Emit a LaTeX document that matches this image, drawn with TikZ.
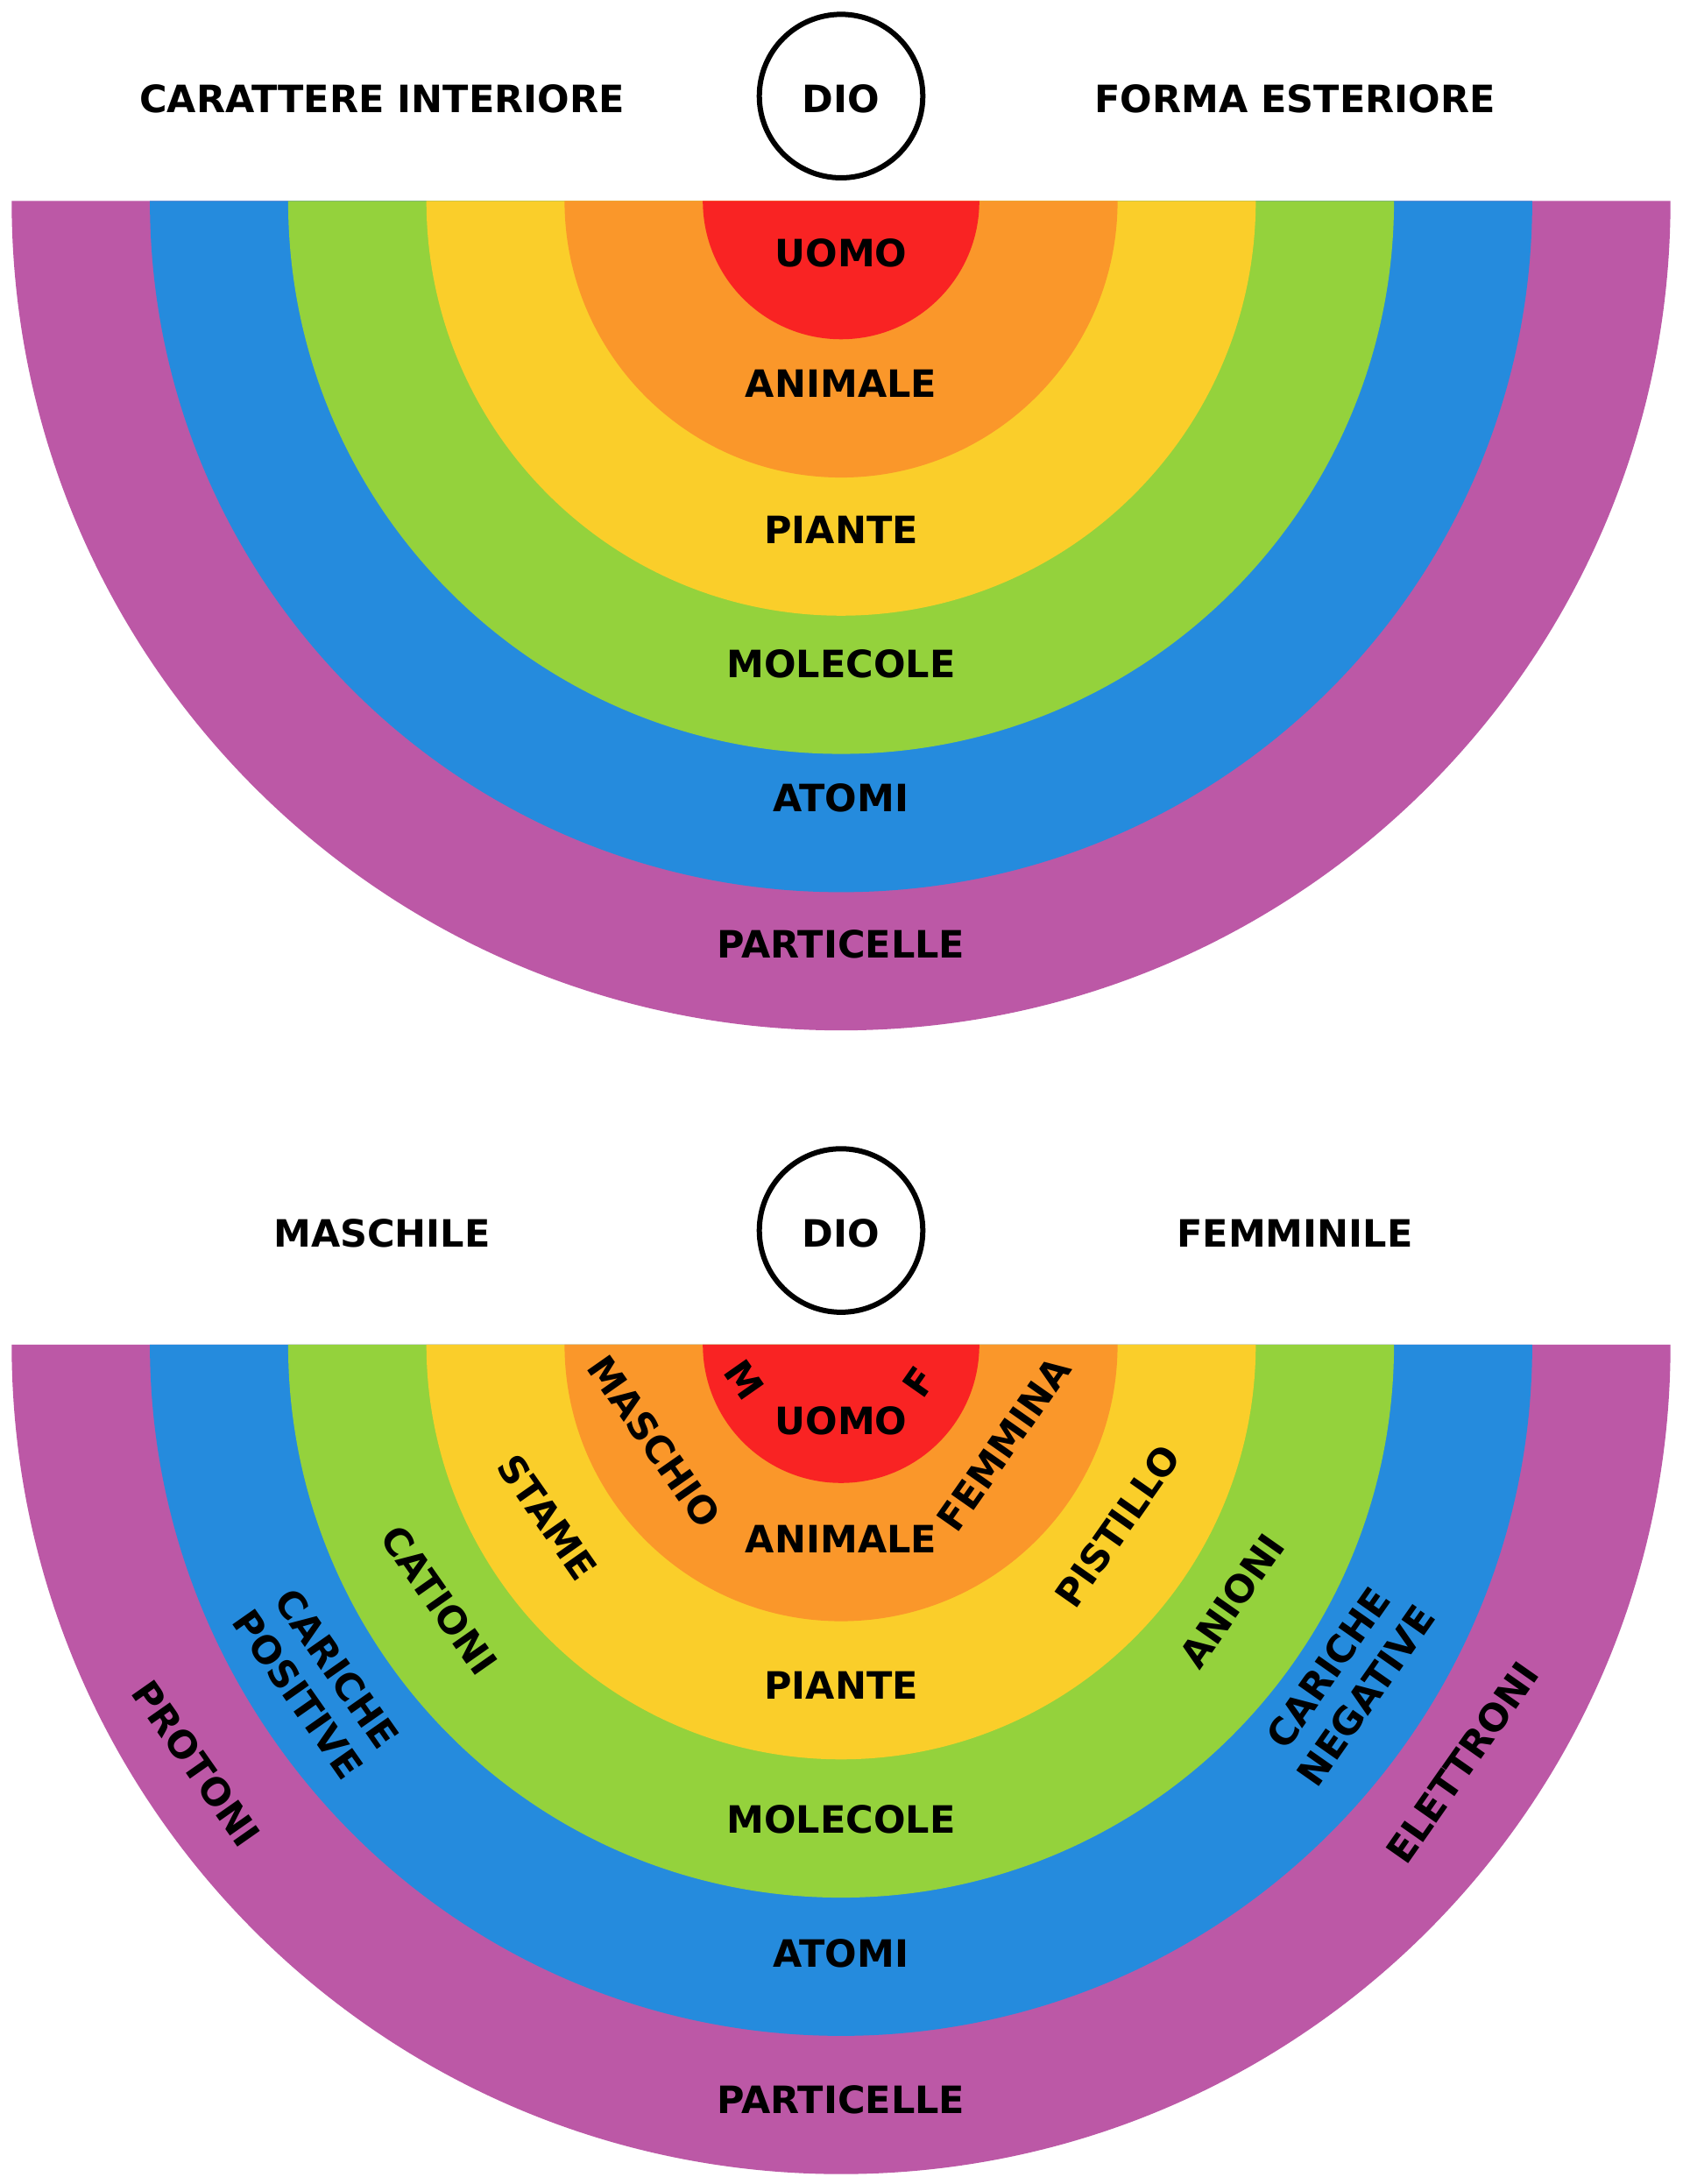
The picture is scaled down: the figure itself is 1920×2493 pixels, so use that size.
\documentclass[tikz,border=0pt]{standalone}
\usepackage{fontspec}
\setmainfont{DejaVu Sans}
\definecolor{cPurple}{HTML}{BC58A6}
\definecolor{cBlue}{HTML}{258BDD}
\definecolor{cGreen}{HTML}{94D23C}
\definecolor{cYellow}{HTML}{FACE2A}
\definecolor{cOrange}{HTML}{FA972A}
\definecolor{cRed}{HTML}{F92323}
\tikzset{
  lab/.style={font=\fontsize{43}{50}\selectfont\bfseries, inner sep=0pt, text height=31.35pt, text depth=0pt},
  labL/.style={lab, rotate=-55},
  labR/.style={lab, rotate=55},
  dio/.style={circle, draw=black, line width=6pt, minimum size=186.6pt, inner sep=0pt, fill=white}
}
\newcommand{\halfrings}[1]{%
  \fill[cPurple] (960-946.7,#1) arc[start angle=180, end angle=360, radius=946.7] -- cycle;
  \fill[cBlue]   (960-788.9,#1) arc[start angle=180, end angle=360, radius=788.9] -- cycle;
  \fill[cGreen]  (960-631.1,#1) arc[start angle=180, end angle=360, radius=631.1] -- cycle;
  \fill[cYellow] (960-473.3,#1) arc[start angle=180, end angle=360, radius=473.3] -- cycle;
  \fill[cOrange] (960-315.6,#1) arc[start angle=180, end angle=360, radius=315.6] -- cycle;
  \fill[cRed]    (960-157.8,#1) arc[start angle=180, end angle=360, radius=157.8] -- cycle;
}
\begin{document}
\begin{tikzpicture}[x=1pt,y=1pt]
\useasboundingbox (0,0) rectangle (1920,2493);
\fill[white] (0,0) rectangle (1920,2493);
% ---------- top diagram ----------
\halfrings{2263.5}
\node[dio] (dio1) at (960,2383.3) {};
\node[lab] (dio1t) at (960,2380.5) {DIO};
\node[lab] (car) at (436,2380) {CARATTERE INTERIORE};
\node[lab] (for) at (1478,2380) {FORMA ESTERIORE};
\node[lab] (uomo1) at (960,2204) {UOMO};
\node[lab] (ani1) at (960,2055) {ANIMALE};
\node[lab] (pia1) at (960,1888) {PIANTE};
\node[lab] (mol1) at (960,1735.4) {MOLECOLE};
\node[lab] (ato1) at (960,1582) {ATOMI};
\node[lab] (par1) at (960,1415) {PARTICELLE};
% ---------- bottom diagram ----------
\halfrings{958}
\node[dio] (dio2) at (960,1088.4) {};
\node[lab] (dio2t) at (960,1085.5) {DIO};
\node[lab] (mas) at (436,1085) {MASCHILE};
\node[lab] (fem) at (1478,1085) {FEMMINILE};
\node[lab] (uomo2) at (960,871) {UOMO};
\node[lab] (ani2) at (960,736) {ANIMALE};
\node[lab] (pia2) at (960,569) {PIANTE};
\node[lab] (mol2) at (960,416) {MOLECOLE};
\node[lab] (ato2) at (960,263.5) {ATOMI};
\node[lab] (par2) at (960,96) {PARTICELLE};
% left side rotated
\node[labL] (m) at (850,918) {M};
\node[labL] (maschio) at (746.7,847.2) {MASCHIO};
\node[labL] (stame) at (625,761) {STAME};
\node[labL] (cationi) at (501,666) {CATIONI};
\node[labL] (caricheL) at (384.7,588.3) {CARICHE};
\node[labL] (positive) at (340,559) {POSITIVE};
\node[labL] (protoni) at (224,480) {PROTONI};
% right side rotated
\node[labR] (f) at (1049,916) {F};
\node[labR] (femmina) at (1145.5,844.7) {FEMMINA};
\node[labR] (pistillo) at (1275.5,751) {PISTILLO};
\node[labR] (anioni) at (1406,665.5) {ANIONI};
\node[labR] (caricheR) at (1515.7,589.3) {CARICHE};
\node[labR] (negative) at (1559,557.5) {NEGATIVE};
\node[labR] (elettroni) at (1669,481) {ELETTRONI};
\end{tikzpicture}
\end{document}
